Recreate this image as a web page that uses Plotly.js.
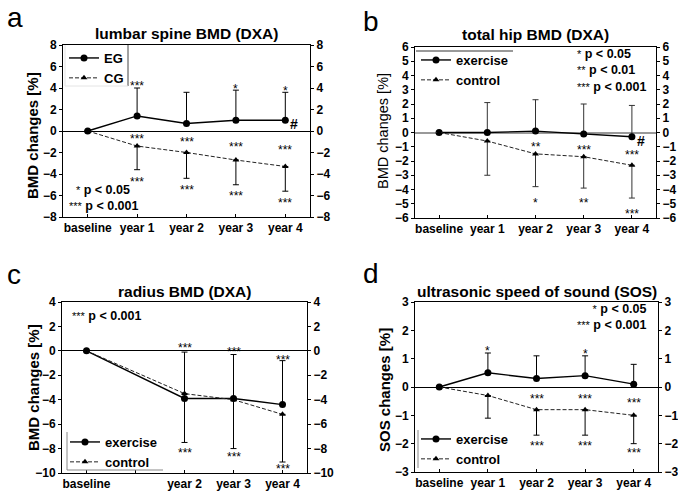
<!DOCTYPE html>
<html>
<head>
<meta charset="utf-8">
<script src="https://cdn.plot.ly/plotly-3.0.1.min.js"></script>
<style>html,body{margin:0;padding:0;background:#fff;}#chart{width:678px;height:494px;}</style>
</head>
<body>
<div id="chart"></div>
<script>
// ---------- data ----------
var categories = ["baseline", "year 1", "year 2", "year 3", "year 4"];
var tickLabelsC = ["baseline", "", "year 2", "year 3", "year 4"];

// (a) lumbar spine BMD
var lumbarEG = [0, 1.4, 0.7, 1.0, 1.0];
var lumbarEGsd = [0, 2.6, 2.9, 2.8, 2.6];
var lumbarCG = [0, -1.4, -2.0, -2.7, -3.3];
var lumbarCGsd = [0, 2.2, 2.4, 2.3, 2.3];

// (b) total hip BMD
var hipEx = [0, 0, 0.1, -0.1, -0.3];
var hipExSd = [0, 2.1, 2.2, 2.1, 2.2];
var hipCo = [0, -0.6, -1.5, -1.7, -2.3];
var hipCoSd = [0, 2.4, 2.3, 2.2, 2.3];

// (c) radius BMD (no year 1 measurement)
var radEx = [0, null, -3.9, -3.9, -4.4];
var radExSd = [0, null, 3.8, 3.6, 3.6];
var radCo = [0, null, -3.5, -4.0, -5.2];
var radCoSd = [0, null, 4.0, 4.0, 3.9];

// (d) ultrasonic SOS
var sosEx = [0, 0.5, 0.3, 0.4, 0.1];
var sosExSd = [0, 0.7, 0.8, 0.7, 0.7];
var sosCo = [0, -0.3, -0.8, -0.8, -1.0];
var sosCoSd = [0, 0.8, 0.9, 0.9, 1.0];

// significance labels: [category, value, text]
var sigA = [["year 1", 4.5, "***"], ["year 3", 4.2, "*"], ["year 4", 4.0, "*"],
            ["year 1", -0.45, "***"], ["year 2", -0.7, "***"], ["year 3", -1.25, "***"], ["year 4", -1.45, "***"],
            ["year 1", -4.5, "***"], ["year 2", -5.2, "***"], ["year 3", -5.8, "***"], ["year 4", -6.45, "***"]];
var sigB = [["year 2", -0.82, "**"], ["year 3", -1.0, "***"], ["year 4", -1.4, "***"],
            ["year 2", -4.75, "*"], ["year 3", -4.75, "**"], ["year 4", -5.5, "***"]];
var sigC = [["year 2", 0.47, "***"], ["year 3", 0.19, "***"], ["year 4", -0.49, "***"],
            ["year 2", -8.1, "***"], ["year 3", -8.45, "***"], ["year 4", -9.45, "***"]];
var sigD = [["year 1", 1.37, "*"], ["year 3", 1.28, "*"],
            ["year 2", -0.31, "***"], ["year 3", -0.31, "***"], ["year 4", -0.46, "***"],
            ["year 2", -1.96, "***"], ["year 3", -1.96, "***"], ["year 4", -2.23, "***"]];

// ---------- helpers ----------
var W = 678, H = 494;
function px(x) { return x / W; }
function py(y) { return 1 - y / H; }
var FAM = "Liberation Sans, Arial, Helvetica, sans-serif";
var boldFont = function (s) { return {family: FAM, size: s, color: "#000", weight: "bold"}; };
var regFont = function (s) { return {family: FAM, size: s, color: "#000"}; };

function mkTraces(xa, ya, exY, exSd, coY, coSd, names, legendId, barColor) {
  var zeros = exY.map(function (v) { return v === null ? null : 0; });
  var co = {
    x: categories, y: coY, xaxis: xa, yaxis: ya, type: "scatter", mode: "lines+markers",
    name: names[1], legend: legendId, connectgaps: true,
    line: {color: "#222", width: 1, dash: "4px,2px"},
    marker: {symbol: "triangle-up", size: 6, color: "#000"},
    error_y: {type: "data", symmetric: false, array: zeros, arrayminus: coSd,
              color: barColor || "#000", thickness: 1, width: 3}
  };
  var ex = {
    x: categories, y: exY, xaxis: xa, yaxis: ya, type: "scatter", mode: "lines+markers",
    name: names[0], legend: legendId, connectgaps: true,
    line: {color: "#000", width: 1.4},
    marker: {symbol: "circle", size: 7, color: "#000"},
    error_y: {type: "data", symmetric: false, array: exSd, arrayminus: zeros,
              color: barColor || "#000", thickness: 1, width: 3}
  };
  return [ex, co];
}

var data = [];
data = data.concat(mkTraces("x", "y", lumbarEG, lumbarEGsd, lumbarCG, lumbarCGsd, ["EG", "CG"], "legend"));
data = data.concat(mkTraces("x2", "y2", hipEx, hipExSd, hipCo, hipCoSd, ["exercise", "control"], "legend2", "#333"));
data = data.concat(mkTraces("x3", "y3", radEx, radExSd, radCo, radCoSd, ["exercise", "control"], "legend3"));
data = data.concat(mkTraces("x4", "y4", sosEx, sosExSd, sosCo, sosCoSd, ["exercise", "control"], "legend4"));
// placeholder traces so the right-hand mirrored axes are drawn
["y5", "y6", "y7", "y8"].forEach(function (ya, i) {
  data.push({x: [categories[0]], y: [null], xaxis: i === 0 ? "x" : "x" + (i + 1), yaxis: ya,
             type: "scatter", mode: "markers", showlegend: false, hoverinfo: "skip"});
});

var panels = [
  {x: [63, 310], y: [45, 217], range: [-8, 8], dtick: 2, title: "lumbar spine BMD (DXA)", ty: 33,
   ytitle: "BMD changes [%]", ytitleBold: true, ytx: 33, yty: 136, letter: "a", lx: 15, ly: 17, ticks: categories, zeroColor: "#000", zeroWidth: 1},
  {x: [415, 656], y: [47, 218], range: [-6, 6], dtick: 1, title: "total hip BMD (DXA)", ty: 35,
   ytitle: "BMD changes [%]", ytitleBold: false, ytx: 383, yty: 131, letter: "b", lx: 371, ly: 21, ticks: categories, zeroColor: "#999", zeroWidth: 2},
  {x: [62, 307], y: [302, 473], range: [-10, 4], dtick: 2, title: "radius BMD (DXA)", ty: 291,
   ytitle: "BMD changes [%]", ytitleBold: true, ytx: 33, yty: 388, letter: "c", lx: 14, ly: 274, ticks: tickLabelsC, zeroColor: "#000", zeroWidth: 1},
  {x: [415, 658], y: [302, 472], range: [-3, 3], dtick: 1, title: "ultrasonic speed of sound (SOS)", ty: 291,
   ytitle: "SOS changes [%]", ytitleBold: true, ytx: 384, yty: 390, letter: "d", lx: 371, ly: 273, ticks: categories, zeroColor: "#000", zeroWidth: 1}
];

var layout = {
  width: W, height: H, margin: {l: 0, r: 0, t: 0, b: 0, autoexpand: false},
  paper_bgcolor: "#fff", plot_bgcolor: "rgba(0,0,0,0)",
  showlegend: true, annotations: [], shapes: []
};

panels.forEach(function (p, i) {
  var n = i === 0 ? "" : String(i + 1);
  var xd = [px(p.x[0]), px(p.x[1])];
  var yd = [py(p.y[1]), py(p.y[0])];
  layout["xaxis" + n] = {
    domain: xd, anchor: "y" + n, type: "category", range: [-0.5, 4.5],
    tickmode: "array", tickvals: categories, ticktext: p.ticks,
    showline: true, linecolor: "#000", linewidth: 1, mirror: true,
    ticks: "inside", ticklen: 3, tickcolor: "#000", showgrid: false, zeroline: false,
    tickfont: boldFont(12), automargin: false, fixedrange: true
  };
  layout["yaxis" + n] = {
    domain: yd, anchor: "x" + n, range: p.range, dtick: p.dtick, tick0: 0,
    showline: true, linecolor: "#000", linewidth: 1,
    ticks: "outside", ticklen: 3, tickcolor: "#000", showgrid: false,
    zeroline: true, zerolinecolor: p.zeroColor, zerolinewidth: p.zeroWidth,
    tickfont: boldFont(12), automargin: false
  };
  layout["yaxis" + (i + 5)] = {
    overlaying: "y" + n, anchor: "x" + n, side: "right", range: p.range, dtick: p.dtick, tick0: 0,
    showline: true, linecolor: "#000", linewidth: 1,
    ticks: "outside", ticklen: 3, tickcolor: "#000", showgrid: false, zeroline: false,
    tickfont: boldFont(12), automargin: false
  };
  // panel title
  layout.annotations.push({
    xref: "paper", yref: "paper", x: (xd[0] + xd[1]) / 2, y: py(p.ty),
    xanchor: "center", yanchor: "middle", showarrow: false, text: p.title, font: boldFont(15.5)
  });
  // y-axis title
  layout.annotations.push({
    xref: "paper", yref: "paper", x: px(p.ytx), y: py(p.yty), textangle: -90,
    xanchor: "center", yanchor: "middle", showarrow: false, text: p.ytitle,
    font: p.ytitleBold ? boldFont(15) : regFont(14.5)
  });
  // panel letter
  layout.annotations.push({
    xref: "paper", yref: "paper", x: px(p.lx), y: py(p.ly), xanchor: "center", yanchor: "middle",
    showarrow: false, text: p.letter, font: regFont(28)
  });
});

function addSig(list, n) {
  list.forEach(function (s) {
    layout.annotations.push({
      xref: "x" + n, yref: "y" + n, x: s[0], y: s[1], text: s[2], showarrow: false,
      xanchor: "center", yanchor: "middle", yshift: -3, font: regFont(12)
    });
  });
}
addSig(sigA, ""); addSig(sigB, "2"); addSig(sigC, "3"); addSig(sigD, "4");

// '#' markers next to the last exercise point in a and b
layout.annotations.push({xref: "x", yref: "y", x: "year 4", y: lumbarEG[4], text: "#", showarrow: false,
  xanchor: "left", yanchor: "middle", xshift: 3, yshift: -4, font: boldFont(14)});
layout.annotations.push({xref: "x2", yref: "y2", x: "year 4", y: hipEx[4], text: "#", showarrow: false,
  xanchor: "left", yanchor: "middle", xshift: 3, yshift: -4, font: boldFont(14)});

// p-value keys
var st = function (s) { return "<span style='font-size:11px;font-weight:normal'>" + s + "</span>"; };
var sp = "&nbsp;";
function key(x, y, lines, anchor) {
  layout.annotations.push({xref: "paper", yref: "paper", x: px(x), y: py(y), text: lines.join("<br>"),
    showarrow: false, xanchor: anchor, yanchor: "middle", align: anchor, font: boldFont(12.5)});
}
key(67, 198, [sp + sp + st("*") + " p &lt; 0.05", st("***") + " p &lt; 0.001"], "left");
key(575, 70, [st("*") + " p &lt; 0.05", st("**") + " p &lt; 0.01", st("***") + " p &lt; 0.001"], "left");
key(70, 316, [st("***") + " p &lt; 0.001"], "left");
key(649, 317, [st("*") + " p &lt; 0.05", st("***") + " p &lt; 0.001"], "right");

// legends
function legend(x, y) {
  return {x: px(x), y: py(y), xanchor: "left", yanchor: "top", bgcolor: "rgba(0,0,0,0)",
          borderwidth: 0, font: boldFont(13), tracegroupgap: 0, itemwidth: 30};
}
layout.legend = legend(64, 43);
layout.legend2 = legend(416, 45);
layout.legend3 = legend(65, 427);
layout.legend4 = legend(416, 424);

// legend frame fragments
function seg(x0, y0, x1, y1, c, w) {
  layout.shapes.push({type: "line", xref: "paper", yref: "paper", x0: px(x0), y0: py(y0), x1: px(x1), y1: py(y1),
    line: {color: c, width: w}});
}
seg(128, 45, 128, 86, "#444", 1);
seg(65, 86, 128, 86, "#e4e4e4", 1);
seg(65, 45, 65, 86, "#e4e4e4", 1);
seg(416, 51, 513, 51, "#999", 2);
seg(67, 432, 67, 470, "#888", 1);
seg(67, 470, 163, 470, "#888", 1);
seg(418, 430, 418, 468, "#888", 1);

Plotly.newPlot("chart", data, layout, {staticPlot: true, displayModeBar: false});
</script>
</body>
</html>
